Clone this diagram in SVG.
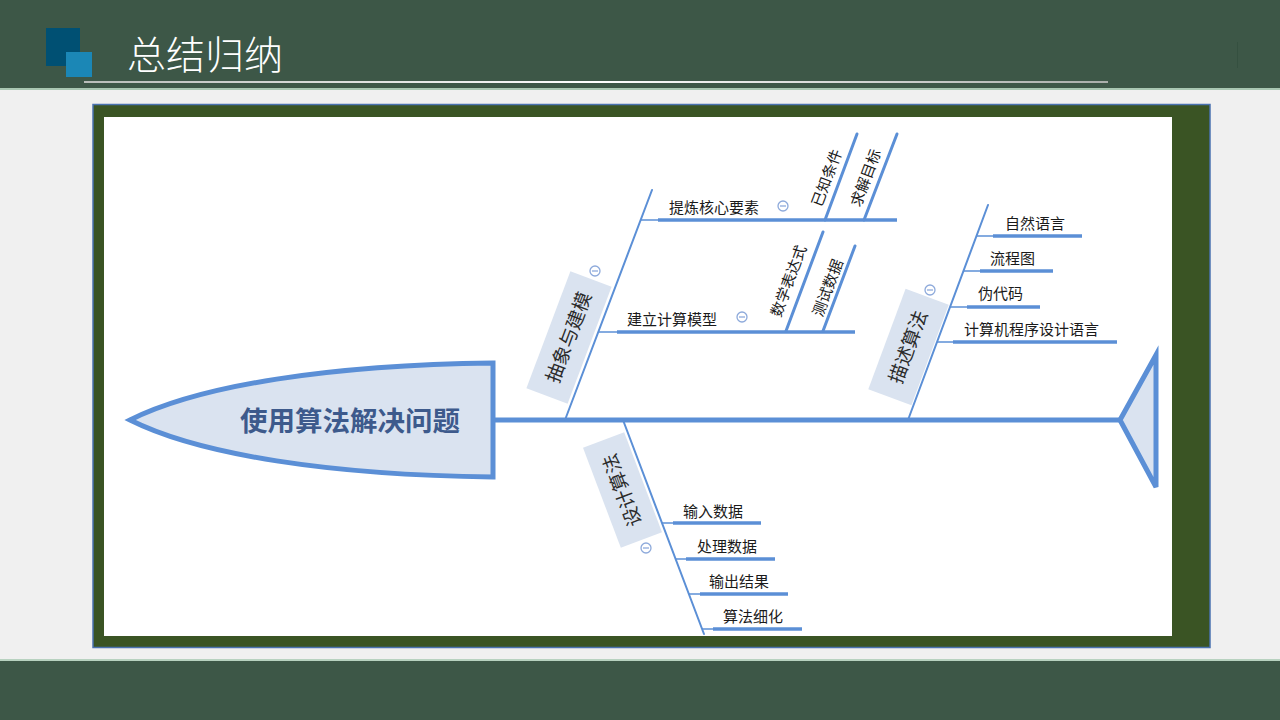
<svg xmlns="http://www.w3.org/2000/svg" width="1280" height="720" viewBox="0 0 1280 720">
<defs>
<linearGradient id="ul" x1="0" x2="1" y1="0" y2="0">
<stop offset="0" stop-color="#b8bdb9"/>
<stop offset="0.5" stop-color="#ffffff"/>
<stop offset="1" stop-color="#a9aeaa"/>
</linearGradient>
<style>
text{font-family:"Noto Sans CJK SC","Liberation Sans",sans-serif;}
.br{stroke:#5b8fd6;stroke-width:2;fill:none;stroke-linecap:round}
.cn{stroke:#5b8fd6;stroke-width:1.5;fill:none}
.sb{stroke:#5b8fd6;stroke-width:3.5;fill:none}
.ss{stroke:#5b8fd6;stroke-width:3;fill:none;stroke-linecap:round}
.lbl{fill:#dae3f0}
.t15{font-size:15px;fill:#1a1a1a}
.t19{font-size:19px;fill:#2b2b2b}
.ic circle{fill:#fff;stroke:#8eaadb;stroke-width:1.3}
.ic line{stroke:#8eaadb;stroke-width:1.3}
</style>
</defs>
<!-- background -->
<rect x="0" y="0" width="1280" height="720" fill="#f0f0f0"/>
<rect x="0" y="0" width="1280" height="89" fill="#3d5747"/>
<rect x="0" y="88" width="1280" height="2" fill="#a9c7b2"/>
<rect x="0" y="660" width="1280" height="60" fill="#3d5747"/>
<rect x="0" y="659" width="1280" height="2" fill="#b8d2c0"/>
<rect x="46" y="28" width="34" height="38" fill="#005073"/>
<rect x="66" y="52" width="26" height="25" fill="#1b87b6"/>
<text x="127" y="69" font-size="39" fill="#ffffff" style="font-weight:300">总结归纳</text>
<rect x="84" y="81" width="1024" height="2" fill="url(#ul)"/>
<line x1="1237.5" y1="42" x2="1237.5" y2="68" stroke="#355040" stroke-width="1"/>
<!-- panel -->
<rect x="93" y="104.5" width="1117" height="543" fill="#3a5424" stroke="#4a72b0" stroke-width="1.5"/>
<rect x="104" y="117" width="1068" height="519" fill="#ffffff"/>

<!-- connectors -->
<g id="connectors">
<line x1="495" y1="420" x2="1120" y2="420" stroke="#5b8fd6" stroke-width="5"/>
<line class="br" x1="565" y1="420" x2="652" y2="190"/>
<line class="br" x1="908" y1="420" x2="988" y2="205"/>
<line class="br" x1="623" y1="420" x2="704" y2="634"/>
<!-- 抽象与建模 subs -->
<line class="cn" x1="640" y1="220" x2="658" y2="220"/>
<line class="sb" x1="658" y1="220" x2="897" y2="220"/>
<line class="cn" x1="598" y1="332" x2="617" y2="332"/>
<line class="sb" x1="617" y1="332" x2="855" y2="332"/>
<line class="ss" x1="825" y1="220" x2="857" y2="134"/>
<line class="ss" x1="864" y1="220" x2="897" y2="134"/>
<line class="ss" x1="786" y1="331" x2="823" y2="232"/>
<line class="ss" x1="823" y1="331" x2="855" y2="246"/>
<!-- 描述算法 subs -->
<line class="cn" x1="976" y1="236" x2="993" y2="236"/>
<line class="sb" x1="993" y1="236" x2="1082" y2="236"/>
<line class="cn" x1="963" y1="271" x2="980" y2="271"/>
<line class="sb" x1="980" y1="271" x2="1053" y2="271"/>
<line class="cn" x1="950" y1="307" x2="967" y2="307"/>
<line class="sb" x1="967" y1="307" x2="1040" y2="307"/>
<line class="cn" x1="937" y1="342" x2="953" y2="342"/>
<line class="sb" x1="953" y1="342" x2="1117" y2="342"/>
<!-- 设计算法 subs -->
<line class="cn" x1="662" y1="523" x2="673" y2="523"/>
<line class="sb" x1="673" y1="523" x2="761" y2="523"/>
<line class="cn" x1="676" y1="559" x2="686" y2="559"/>
<line class="sb" x1="686" y1="559" x2="775" y2="559"/>
<line class="cn" x1="689" y1="594" x2="700" y2="594"/>
<line class="sb" x1="700" y1="594" x2="788" y2="594"/>
<line class="cn" x1="702" y1="629" x2="713" y2="629"/>
<line class="sb" x1="713" y1="629" x2="802" y2="629"/>
</g>

<!-- head -->
<g id="head">
<path d="M130,420 C200,385 330,365 493,363 L493,477 C330,475 200,455 130,420 Z" fill="#dae3f0" stroke="#5b8fd6" stroke-width="5" stroke-linejoin="miter"/>
<text x="350" y="431" font-size="27.5" font-weight="bold" fill="#3d5a8c" text-anchor="middle">使用算法解决问题</text>
</g>
<!-- tail -->
<g id="tail">
<path d="M1120,420 L1156,355 L1156,487 Z" fill="#dae3f0" stroke="#5b8fd6" stroke-width="5" stroke-linejoin="miter"/>
</g>

<!-- branch 抽象与建模 -->
<g id="abstract">
<rect class="lbl" x="-62.5" y="-22" width="125" height="44" transform="translate(569,337.5) rotate(-69.4)"/>
<text class="t19" text-anchor="middle" transform="translate(569,337.5) rotate(-69.4)" y="6.5">抽象与建模</text>
<g class="ic"><circle cx="595" cy="271" r="5"/><line x1="592" y1="271" x2="598" y2="271"/></g>
</g>
<g id="refine">
<text class="t15" x="669" y="213">提炼核心要素</text>
<g class="ic"><circle cx="783" cy="206" r="5"/><line x1="780" y1="206" x2="786" y2="206"/></g>
</g>
<g id="known"><text class="t15" text-anchor="middle" transform="translate(827,178) rotate(-69.5)" y="5">已知条件</text></g>
<g id="goal"><text class="t15" text-anchor="middle" transform="translate(866,178) rotate(-69.5)" y="5">求解目标</text></g>
<g id="model">
<text class="t15" x="627" y="325">建立计算模型</text>
<g class="ic"><circle cx="742" cy="317" r="5"/><line x1="739" y1="317" x2="745" y2="317"/></g>
</g>
<g id="expr"><text class="t15" text-anchor="middle" transform="translate(789,281) rotate(-69.5)" y="5">数学表达式</text></g>
<g id="test"><text class="t15" text-anchor="middle" transform="translate(828,288) rotate(-69.5)" y="5">测试数据</text></g>

<!-- branch 描述算法 -->
<g id="describe">
<rect class="lbl" x="-53.5" y="-23" width="107" height="46" transform="translate(908.5,347) rotate(-69.6)"/>
<text class="t19" text-anchor="middle" transform="translate(908.5,347) rotate(-69.6)" y="6.5">描述算法</text>
<g class="ic"><circle cx="930" cy="290" r="5"/><line x1="927" y1="290" x2="933" y2="290"/></g>
</g>
<g id="natural"><text class="t15" x="1005" y="228.5">自然语言</text></g>
<g id="flow"><text class="t15" x="990" y="263.5">流程图</text></g>
<g id="pseudo"><text class="t15" x="978" y="299">伪代码</text></g>
<g id="proglang"><text class="t15" x="964" y="334.5">计算机程序设计语言</text></g>

<!-- branch 设计算法 -->
<g id="design">
<rect class="lbl" x="-53.5" y="-22" width="107" height="44" transform="translate(622.5,490) rotate(69.3)"/>
<text class="t19" text-anchor="middle" transform="translate(622.5,490) rotate(-110.7)" y="6.5">设计算法</text>
<g class="ic"><circle cx="646" cy="548" r="5"/><line x1="643" y1="548" x2="649" y2="548"/></g>
</g>
<g id="input"><text class="t15" x="683" y="516.5">输入数据</text></g>
<g id="process"><text class="t15" x="697" y="551.5">处理数据</text></g>
<g id="output"><text class="t15" x="709" y="586.5">输出结果</text></g>
<g id="detail"><text class="t15" x="723" y="621.5">算法细化</text></g>
</svg>
